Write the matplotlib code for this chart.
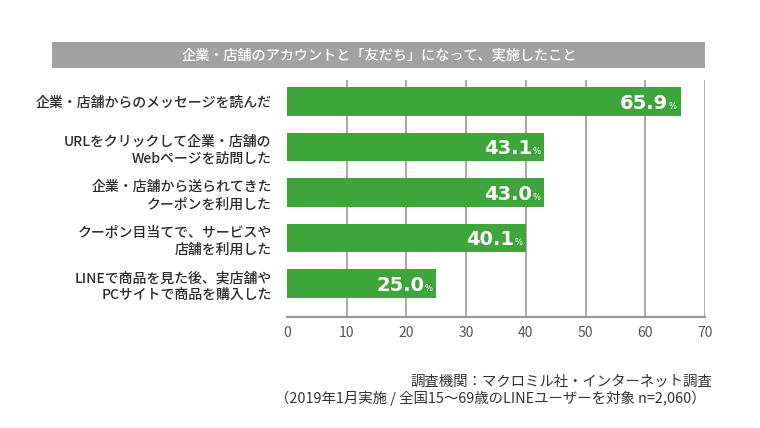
import matplotlib
matplotlib.use("Agg")
import matplotlib.pyplot as plt
from matplotlib.patches import Rectangle

plt.rcParams['font.family'] = ['Noto Sans CJK JP', 'DejaVu Sans']

title = "企業・店舗のアカウントと「友だち」になって、実施したこと"
categories = [
    "企業・店舗からのメッセージを読んだ",
    "URLをクリックして企業・店舗の\nWebページを訪問した",
    "企業・店舗から送られてきた\nクーポンを利用した",
    "クーポン目当てで、サービスや\n店舗を利用した",
    "LINEで商品を見た後、実店舗や\nPCサイトで商品を購入した",
]
values = [65.9, 43.1, 43.0, 40.1, 25.0]
xticks = [0, 10, 20, 30, 40, 50, 60, 70]
note1 = "調査機関：マクロミル社・インターネット調査"
note2 = "（2019年1月実施 / 全国15〜69歳のLINEユーザーを対象 n=2,060）"

W, H = 760, 428
fig = plt.figure(figsize=(W / 100, H / 100), dpi=100)
fig.patch.set_facecolor("white")

ax_l, ax_r, ax_t, ax_b = 287, 705, 80, 316.7
ax = fig.add_axes([ax_l / W, 1 - ax_b / H, (ax_r - ax_l) / W, (ax_b - ax_t) / H])

green = "#3da53a"
grid_c = "#a3a3a3"
pos = list(range(len(values)))
ax.barh(pos, values, height=0.63, color=green, zorder=3)
for g in xticks[1:]:
    ax.axvline(g, color=grid_c, lw=1.3, zorder=1)

ax.set_xlim(0, 70)
ax.set_ylim(4.73, -0.477)
ax.set_xticks(xticks)
ax.set_xticklabels([str(t) for t in xticks], color="#555555", fontsize=10)
ax.tick_params(axis="x", length=0, pad=7)
ax.set_yticks(pos)
ax.set_yticklabels(categories, fontsize=10, color="#2b2b2b", linespacing=1.3,
                   ha="right", fontweight="medium")
ax.tick_params(axis="y", length=0, pad=11)
for s in ["top", "right", "left"]:
    ax.spines[s].set_visible(False)
ax.spines["bottom"].set_color("#999999")
ax.spines["bottom"].set_linewidth(1.6)
ax.spines["bottom"].set_zorder(4)

for i, v in enumerate(values):
    ax.annotate(f"{v:.1f}", xy=(v, i), xytext=(-8.8, -5.2), textcoords="offset points",
                ha="right", va="baseline", color="white", fontsize=14, fontweight="bold",
                family="DejaVu Sans", zorder=5)
    ax.annotate("%", xy=(v, i), xytext=(-2.6, -5.2), textcoords="offset points",
                ha="right", va="baseline", color="white", fontsize=6,
                family="DejaVu Sans", zorder=5)

# title bar
fig.patches.append(Rectangle((52 / W, 1 - 68.3 / H), (705 - 52) / W, (68.3 - 41.7) / H,
                             transform=fig.transFigure, facecolor="#a2a2a2",
                             edgecolor="none", zorder=0))
fig.text(379 / W, 1 - 55 / H, title, ha="center", va="center",
         color="white", fontsize=10.2, fontweight="medium")

fig.text(712 / W, 1 - 382 / H, note1, ha="right", va="center", color="#333333", fontsize=10.4)
fig.text(706 / W, 1 - 398.5 / H, note2, ha="right", va="center", color="#333333", fontsize=10.4)

fig.savefig("out.png", dpi=100, facecolor="white")
